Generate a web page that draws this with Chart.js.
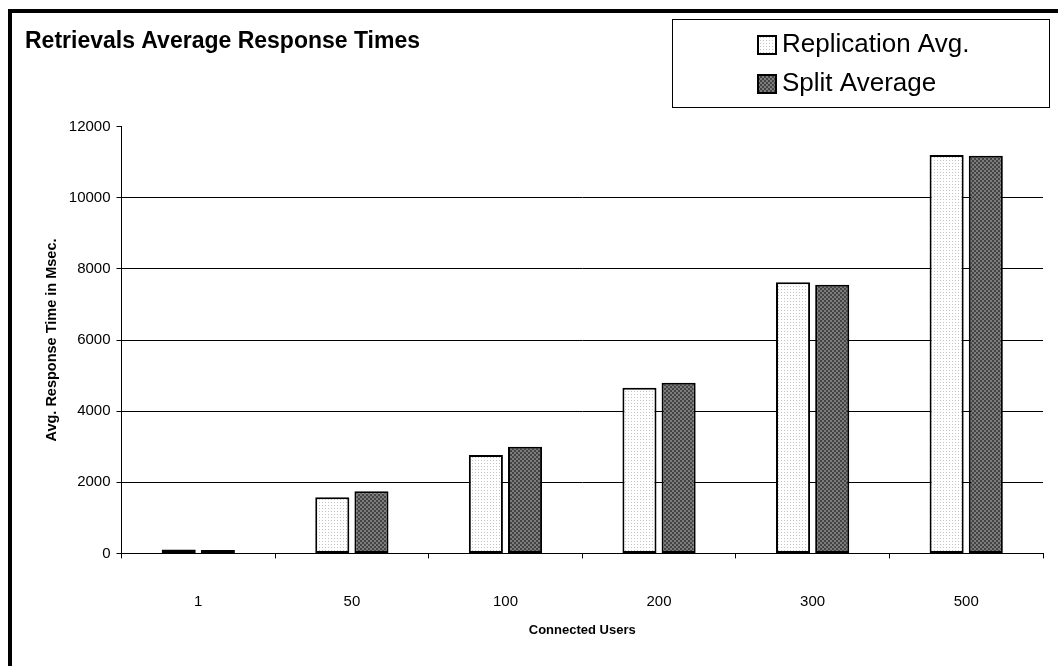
<!DOCTYPE html>
<html>
<head>
<meta charset="utf-8">
<script src="https://cdn.jsdelivr.net/npm/chart.js@4.4.1/dist/chart.umd.min.js"></script>
<style>
  html, body { margin: 0; padding: 0; background: #fff; }
  #moldura { position: absolute; left: 0; top: 0; width: 1058px; height: 666px; overflow: hidden; }
  #borda { position: absolute; left: 8px; top: 9px; width: 2000px; height: 2000px; border-left: 4px solid #000; border-top: 4px solid #000; }
  #grafico { position: absolute; left: 0; top: 0; }
</style>
</head>
<body>
<div id="moldura">
  <div id="borda"></div>
  <canvas id="grafico" width="1058" height="666"></canvas>
</div>
<script>
// dados
const usuariosConectados = ["1", "50", "100", "200", "300", "500"]
const mediaReplicacao = [110, 1580, 2770, 4660, 7625, 11205]
const mediaSplit = [95, 1745, 3000, 4800, 7550, 11180]
const eixoYMin = 0
const eixoYMax = 12000
const eixoYPasso = 2000

const fonte = '"Liberation Sans", Arial, sans-serif'
Chart.defaults.font.family = fonte
Chart.defaults.color = '#000'

function criarPadrao(tamanho, desenho) {
  const c = document.createElement("canvas")
  c.width = tamanho
  c.height = tamanho
  const g = c.getContext("2d")
  desenho(g)
  return g.createPattern(c, "repeat")
}

// pontinhos claros (Replication) e xadrez escuro (Split)
const padraoPontilhado = criarPadrao(3, g => {
  g.fillStyle = '#fff'
  g.fillRect(0, 0, 3, 3)
  g.fillStyle = '#c4c4c4'
  g.fillRect(1, 1, 1, 1)
})
const padraoXadrez = criarPadrao(4, g => {
  g.fillStyle = '#7c7c7c'
  g.fillRect(0, 0, 4, 4)
  g.fillStyle = '#434343'
  g.fillRect(0, 0, 2, 2)
  g.fillRect(2, 2, 2, 2)
})

// legenda com caixa, no canto de cima
const legendaCaixa = {
  id: 'legendaCaixa',
  afterDraw(chart) {
    const ctx = chart.ctx
    ctx.save()
    ctx.strokeStyle = '#000'
    ctx.lineWidth = 1
    ctx.strokeRect(672.5, 19.5, 377, 88)
    chart.data.datasets.forEach((ds, i) => {
      const y = 45 + i * 39
      ctx.fillStyle = ds.backgroundColor
      ctx.fillRect(758, y - 9, 18, 18)
      ctx.lineWidth = 2
      ctx.strokeRect(758, y - 9, 18, 18)
      ctx.fillStyle = '#000'
      ctx.font = '26px ' + fonte
      ctx.textBaseline = 'middle'
      ctx.textAlign = 'left'
      ctx.fillText(ds.label, 782, y)
    })
    ctx.restore()
  }
}

const grafico = new Chart(document.querySelector("#grafico").getContext("2d"), {
  type: 'bar',
  data: {
    labels: usuariosConectados,
    datasets: [{
      label: 'Replication Avg.',
      data: mediaReplicacao,
      backgroundColor: padraoPontilhado,
      borderColor: '#000',
      borderWidth: 2,
      borderSkipped: false
    }, {
      label: 'Split Average',
      data: mediaSplit,
      backgroundColor: padraoXadrez,
      borderColor: '#000',
      borderWidth: 2,
      borderSkipped: false
    }]
  },
  options: {
    responsive: false,
    animation: false,
    categoryPercentage: 0.51,
    barPercentage: 0.87,
    layout: {
      padding: { left: 25, right: 15, top: 0, bottom: 0 }
    },
    plugins: {
      legend: { display: false },
      tooltip: { enabled: false },
      title: {
        display: true,
        text: 'Retrievals Average Response Times',
        align: 'start',
        color: '#000',
        font: { size: 23, weight: 'bold' },
        padding: { top: 28, bottom: 71 }
      }
    },
    scales: {
      x: {
        grid: { offset: true, drawOnChartArea: false, drawTicks: true, tickLength: 5, color: '#000' },
        border: { color: '#000', width: 1 },
        ticks: { padding: 34, color: '#000', font: { size: 15 } },
        title: {
          display: true,
          text: 'Connected Users',
          color: '#000',
          font: { size: 13, weight: 'bold' },
          padding: { top: 0, bottom: 28 }
        },
        afterFit: escala => { escala.height = 112.6 }
      },
      y: {
        min: eixoYMin,
        max: eixoYMax,
        ticks: {
          stepSize: eixoYPasso,
          padding: 6,
          color: '#000',
          font: { size: 15 },
          callback: valor => String(valor)
        },
        grid: {
          color: ctx => ctx.tick && ctx.tick.value === eixoYMax ? 'rgba(0,0,0,0)' : '#000',
          tickColor: '#000',
          tickLength: 5
        },
        border: { color: '#000', width: 1 },
        title: {
          display: true,
          text: 'Avg. Response Time in Msec.',
          color: '#000',
          font: { size: 14.5, weight: 'bold' },
          padding: { top: 18, bottom: 0 }
        },
        afterFit: escala => { escala.width = 96.5 }
      }
    }
  },
  plugins: [legendaCaixa]
})
</script>
</body>
</html>
